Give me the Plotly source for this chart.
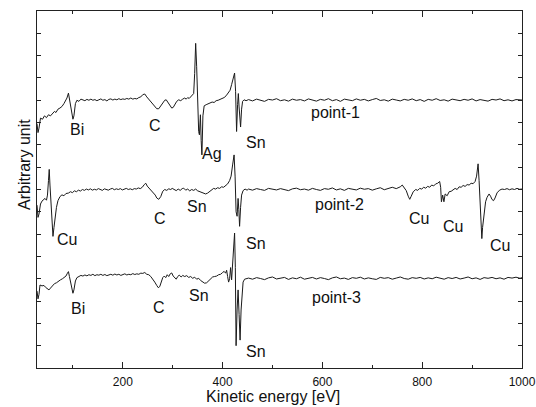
import plotly.graph_objects as go

# ---------------- data ----------------
# point-1 spectrum (offset baseline ~12)
energy_1_head = [28, 30, 32, 35, 39, 43, 47, 51, 55, 59, 63, 66, 70, 74, 78, 82, 85, 88, 91, 94,
                 97, 100, 102, 105, 108, 112, 116, 120, 124, 128, 132, 136, 140, 144, 148, 152, 156, 160, 164, 168,
                 172, 176, 180, 184, 188, 192, 196, 200, 204, 208, 212, 216, 220, 224, 228, 232, 236, 240, 244, 248,
                 252, 256, 260, 264, 268, 272, 276, 280, 284, 287, 290, 294, 298, 301, 304, 308, 312, 316, 320, 324,
                 327, 330, 333, 336, 339, 342, 344, 346, 348, 350, 352, 353.5, 355.5, 357, 358.5, 360.5, 363, 367, 371, 375,
                 379, 383, 387, 391, 395, 399, 403, 407, 411, 415, 418, 421, 424, 426, 428, 430, 431.5, 433, 436, 438,
                 440, 443, 447]
signal_1_head = [10.95, 10.55, 10.75, 11.2, 11.15, 11.3, 11.22, 11.35, 11.3, 11.42, 11.5, 11.45, 11.6, 11.65, 11.72, 11.85, 11.95, 12.1, 12.32, 11.95,
                 11.5, 11.15, 11.3, 11.85, 12.0, 11.95, 12.05, 12.02, 11.98, 12.04, 12.0, 12.05, 12.0, 12.03, 11.98, 12.02, 12.06, 12.0, 12.03, 11.97,
                 12.04, 12.06, 12.01, 12.05, 12.02, 12.07, 12.03, 12.06, 12.04, 12.08, 12.05, 12.1, 12.05, 12.08, 12.06, 12.12, 12.15, 12.25, 12.28, 12.15,
                 12.05, 11.95, 11.85, 11.72, 11.62, 11.62, 11.75, 11.9, 12.0, 12.02, 11.92, 11.78, 11.65, 11.68, 11.8, 11.95, 12.02, 11.98, 12.05, 12.1,
                 12.05, 12.12, 12.08, 12.16, 12.2, 12.3, 13.2, 14.55, 13.5, 11.9, 10.6, 10.45, 11.35, 10.2, 9.55, 11.3, 11.75, 11.8, 11.85, 11.88,
                 11.92, 11.9, 11.98, 12.0, 12.03, 12.08, 12.12, 12.2, 12.35, 12.45, 12.7, 13.0, 13.22, 12.4, 10.6, 11.8, 12.3, 11.7, 10.8, 11.6,
                 11.95, 12.02, 11.98]
energy_1_tail = list(range(452, 1000, 8)) + [1000]
signal_1_tail = [12.03, 11.97, 12.05, 12.0, 11.95, 12.04, 12.01, 12.07, 11.98, 12.02,
                 11.96, 12.05, 12.0, 12.03, 11.97, 12.06, 12.01, 11.96, 12.04, 12.0,
                 12.07, 11.98, 12.03, 11.95, 12.05, 12.02, 11.98, 12.06, 12.0, 12.04,
                 11.97, 12.03, 12.08, 11.99, 12.02, 11.96, 12.05, 12.01, 11.97, 12.04,
                 12.0, 12.06, 11.98, 12.03, 11.95, 12.04, 12.0, 12.07, 11.99, 12.02,
                 11.96, 12.05, 12.01, 11.98, 12.04, 12.0, 12.06, 11.97, 12.03, 12.0,
                 11.96, 12.04, 12.01, 12.06, 11.98, 12.02, 11.97, 12.03, 12.0, 12.01]

# point-2 spectrum (offset baseline ~8)
energy_2_head = [28, 30, 32, 35, 38, 41, 44, 47, 49, 51, 52.5, 54, 56.5, 58.5, 60, 62, 64.6, 67, 70, 74,
                 78, 82, 86, 91, 95, 99, 103, 107, 111, 115, 119, 123, 127, 131, 135, 139, 143, 147, 151, 155,
                 159, 163, 167, 171, 175, 179, 183, 187, 191, 195, 199, 203, 207, 211, 215, 219, 223, 227, 231, 235,
                 239, 243, 246, 249, 253, 257, 261, 265, 268, 272, 276, 280, 284, 288, 292, 296, 299, 303, 307, 311,
                 315, 319, 322, 326, 330, 334, 338, 342, 346, 350, 354, 358, 362, 366, 370, 374, 378, 382, 386, 390,
                 394, 398, 402, 406, 410, 414, 417, 420, 423, 425, 427, 429, 431, 432.5, 434, 436, 438, 441, 445, 449]
signal_2_head = [7.3, 6.75, 6.9, 7.35, 7.48, 7.55, 7.6, 7.52, 7.75, 8.4, 8.9, 8.2, 7.2, 6.3, 5.9, 6.3, 6.8, 7.2, 7.5, 7.68,
                 7.76, 7.72, 7.82, 7.84, 7.9, 7.86, 7.94, 7.9, 7.97, 7.93, 8.0, 7.96, 8.02, 7.98, 8.03, 7.97, 8.01, 7.98, 8.04, 8.0,
                 7.96, 8.03, 8.0, 7.97, 8.02, 8.05, 7.99, 8.03, 8.0, 8.04, 7.98, 8.02, 8.05, 8.0, 8.03, 7.99, 8.04, 8.02, 8.07, 8.04,
                 8.1, 8.22, 8.28, 8.15, 8.05, 7.95, 7.85, 7.75, 7.62, 7.56, 7.68, 7.92, 8.0, 7.96, 8.03, 8.0, 8.05, 7.98, 7.95, 8.02,
                 7.96, 8.04, 8.06, 7.97, 8.02, 7.94, 8.0, 7.96, 8.02, 7.94, 7.9, 7.86, 7.82, 7.8, 7.84, 7.92, 7.98, 8.05, 8.02, 8.08,
                 8.05, 8.12, 8.1, 8.18, 8.25, 8.4, 8.6, 9.1, 9.55, 8.6, 7.0, 6.8, 7.6, 7.1, 6.35, 7.2, 7.75, 7.95, 8.02, 7.97]
energy_2_mid = list(range(452, 760, 8))
signal_2_mid = [8.02, 7.97, 8.04, 8.0, 7.96, 8.05, 8.01, 7.98, 8.04, 8.0,
                7.95, 8.03, 8.06, 7.99, 8.02, 7.97, 8.05, 8.0, 7.96, 8.04,
                8.01, 8.07, 7.98, 8.03, 7.96, 8.05, 8.02, 7.98, 8.06, 8.01,
                8.04, 7.97, 8.03, 8.08, 7.99, 8.05, 8.1, 8.04, 8.12]
energy_2_tail = [760, 764, 768, 772, 775, 778, 782, 787, 791, 795, 799, 803, 807, 811, 815, 819, 823, 827, 831, 835,
                 837, 838.5, 841, 843.5, 846, 850, 854, 858, 862, 866, 870, 874, 878, 882, 886, 890, 894, 898, 902, 906,
                 909, 912, 914, 916, 918, 919.5, 921, 924, 927, 930, 934, 937, 940, 943, 946, 950, 955, 960, 965, 970,
                 975, 980, 985, 990, 995, 1000]
signal_2_tail = [8.2, 8.1, 7.95, 7.7, 7.56, 7.7, 7.9, 8.0, 7.96, 8.05, 8.02, 8.1, 8.06, 8.14, 8.1, 8.2, 8.16, 8.25, 8.28, 8.36,
                 8.1, 7.45, 7.75, 7.45, 7.8, 7.72, 7.9, 7.92, 7.98, 8.05, 8.0, 8.12, 8.1, 8.18, 8.14, 8.22, 8.2, 8.28, 8.26, 8.36,
                 8.6, 9.15, 8.4, 7.4, 6.2, 5.8, 6.3, 7.0, 7.45, 7.65, 7.8, 7.7, 7.55, 7.5, 7.62, 7.85, 7.97, 8.02, 8.0, 8.04,
                 7.99, 8.03, 8.0, 8.05, 8.01, 8.02]

# point-3 spectrum (offset baseline ~4)
energy_3_head = [28, 30, 32, 34, 38, 42, 45, 48, 52, 55, 59, 63, 67, 71, 75, 79, 83, 86, 89, 91,
                 93, 96, 98, 100, 102, 105, 108, 112, 116, 120, 124, 128, 132, 136, 140, 144, 148, 152, 156, 160,
                 164, 168, 172, 176, 180, 184, 188, 192, 196, 200, 204, 208, 212, 216, 220, 224, 228, 232, 236, 240,
                 244, 248, 252, 256, 260, 264, 268, 271, 274, 277, 280, 283, 286, 289, 292, 295, 298, 301, 304, 307,
                 310, 313, 317, 320, 324, 328, 332, 336, 340, 344, 348, 352, 356, 360, 364, 368, 372, 376, 380, 384,
                 388, 392, 396, 400, 403, 406, 408, 410, 412, 414, 416, 418, 420, 422, 424, 425.5, 427, 429, 431, 433,
                 435, 437, 439, 441, 444, 448]
signal_3_head = [3.45, 3.1, 3.3, 3.72, 3.68, 3.7, 3.62, 3.55, 3.5, 3.58, 3.7, 3.78, 3.82, 3.9, 3.95, 4.0, 4.05, 4.12, 4.25, 4.32,
                 4.1, 3.75, 3.5, 3.35, 3.5, 3.9, 4.05, 4.1, 4.15, 4.12, 4.17, 4.13, 4.18, 4.15, 4.2, 4.14, 4.18, 4.16, 4.2, 4.15,
                 4.19, 4.14, 4.18, 4.2, 4.16, 4.21, 4.17, 4.2, 4.15, 4.19, 4.22, 4.17, 4.2, 4.18, 4.23, 4.19, 4.22, 4.2, 4.25, 4.24,
                 4.28, 4.2, 4.18, 4.1, 4.0, 3.85, 3.7, 3.6, 3.65, 3.85, 4.05, 4.12, 4.05, 4.18, 4.1, 4.22, 4.26, 4.12, 4.05, 3.98,
                 4.1, 4.16, 4.08, 4.15, 4.1, 4.14, 4.06, 4.1, 4.02, 4.07, 3.98, 4.02, 3.92, 3.86, 3.8, 3.82, 3.92, 4.0, 4.08, 4.1,
                 4.12, 4.18, 4.2, 4.28, 4.33, 4.25, 4.38, 4.1, 3.85, 4.0, 4.5, 3.95, 4.6, 5.4, 6.05, 4.5, 1.0, 2.6, 3.5, 2.4,
                 1.25, 2.6, 3.5, 3.85, 3.98, 4.02]
energy_3_tail = list(range(452, 1000, 8)) + [1000]
signal_3_tail = [4.03, 3.98, 4.05, 4.01, 3.96, 4.04, 4.08, 3.99, 4.02, 4.06,
                 3.97, 4.04, 4.0, 4.07, 3.98, 4.03, 4.06, 3.99, 4.05, 4.01,
                 3.96, 4.04, 4.08, 4.0, 4.03, 3.97, 4.05, 4.02, 4.07, 3.99,
                 4.04, 4.0, 3.97, 4.06, 4.02, 4.05, 3.98, 4.03, 4.08, 4.01,
                 3.98, 4.05, 4.02, 4.06, 3.99, 4.04, 4.0, 4.07, 4.02, 3.98,
                 4.05, 4.01, 4.06, 3.99, 4.03, 4.08, 4.0, 4.04, 3.97, 4.05,
                 4.02, 4.06, 4.0, 4.04, 3.98, 4.06, 4.03, 4.07, 4.02, 4.05]

# peak labels: text, energy, offset-signal position
label_text = ["Bi", "C", "Ag", "Sn", "point-1",
              "Cu", "C", "Sn", "Sn", "point-2", "Cu", "Cu", "Cu",
              "Bi", "C", "Sn", "Sn", "point-3"]
label_energy = [109, 264, 379, 467, 626,
                89, 274, 348, 467, 634, 793, 862, 955,
                111, 272, 352, 467, 628]
label_signal = [10.67, 10.85, 9.6, 10.1, 11.43,
                5.74, 6.68, 7.22, 5.6, 7.35, 6.68, 6.35, 5.47,
                2.65, 2.72, 3.27, 0.72, 3.18]

x_ticks = [200, 400, 600, 800, 1000]
x_minor = [100, 300, 500, 700, 900]

# ---------------- figure ----------------
FONT = "Liberation Sans, Arial, sans-serif"
LINE = "#1a1a1a"

fig = go.Figure()
series = [
    (energy_1_head + energy_1_tail, signal_1_head + signal_1_tail),
    (energy_2_head + energy_2_mid + energy_2_tail, signal_2_head + signal_2_mid + signal_2_tail),
    (energy_3_head + energy_3_tail, signal_3_head + signal_3_tail),
]
for xs, ys in series:
    fig.add_trace(go.Scatter(x=xs, y=ys, mode="lines",
                             line=dict(color=LINE, width=1), showlegend=False,
                             hoverinfo="skip"))

for t, e, s in zip(label_text, label_energy, label_signal):
    fig.add_annotation(x=e, y=s, xref="x", yref="y", text=t, showarrow=False,
                       font=dict(family=FONT, size=16, color="#111"))

fig.add_annotation(text="Kinetic energy [eV]", xref="paper", yref="paper",
                   x=0.4856, y=-0.0805, showarrow=False, yanchor="middle",
                   font=dict(family=FONT, size=16, color="#111"))
fig.add_annotation(text="Arbitrary unit", xref="paper", yref="paper",
                   x=-0.0474, y=0.57, showarrow=False, textangle=-90,
                   font=dict(family=FONT, size=16, color="#111"))

fig.update_layout(
    template="none",
    width=536, height=407,
    margin=dict(l=37, r=14, t=11, b=39, autoexpand=False),
    paper_bgcolor="white", plot_bgcolor="white",
    font=dict(family=FONT, size=12, color="#111"),
)
fig.update_xaxes(range=[28, 1000], tickvals=x_ticks, ticks="inside", ticklen=6,
                 tickcolor="#222", showline=True, linecolor="#222", linewidth=1,
                 mirror="ticks", showgrid=False, zeroline=False, automargin=False,
                 ticklabelstandoff=3,
                 tickfont=dict(family=FONT, size=12, color="#111"),
                 minor=dict(tickvals=x_minor, ticks="inside", ticklen=3, tickcolor="#222",
                            showgrid=False))
fig.update_yaxes(range=[0, 16], dtick=1, tick0=0, ticks="inside", ticklen=4,
                 tickcolor="#222", showline=True, linecolor="#222", linewidth=1,
                 mirror="ticks", showgrid=False, zeroline=False, showticklabels=False,
                 automargin=False)

fig.write_html("out.html",
               config={"displayModeBar": False, "staticPlot": True},
               post_script="document.body.style.margin='0';"
                           "document.documentElement.style.overflow='hidden';"
                           "document.body.style.overflow='hidden';")
